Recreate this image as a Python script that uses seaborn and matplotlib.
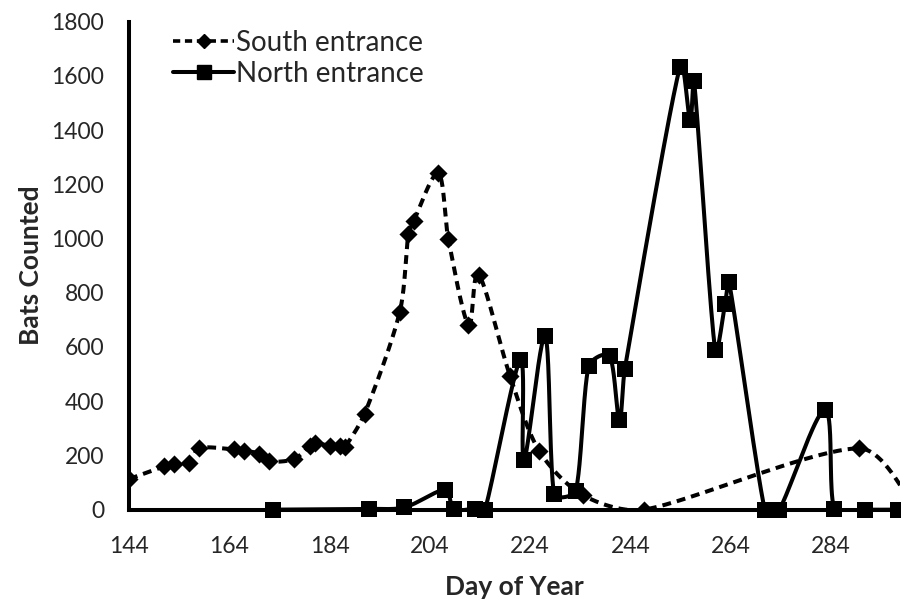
import numpy as np
import pandas as pd
import matplotlib
matplotlib.use("Agg")
import matplotlib.pyplot as plt
from matplotlib.lines import Line2D
import seaborn as sns

# South entrance counts (day of year, bats)
south_day = [144, 151, 153, 156, 158, 165, 167, 170, 172, 177, 180, 181, 184, 186, 187,
             191, 198, 199.7, 200.8, 205.7, 207.7, 211.7, 213.8, 220, 225.8, 234.6,
             246.8, 289.6, 301]
south_count = [113, 160, 169, 172, 227, 222, 218, 206, 178, 187, 236, 246, 236, 234, 230,
               354, 729, 1015, 1065, 1240, 997, 681, 865, 493, 217, 53,
               0, 226, 0]

# North entrance counts
north_day = [172.8, 191.9, 198.9, 207, 208.8, 213, 215, 222, 222.8, 227, 228.8, 233.1,
             235.7, 239.9, 241.8, 242.9, 253.9, 255.9, 256.7, 260.9, 262.9, 263.7,
             270.8, 273.7, 282.8, 284.7, 290.7, 297.4]
north_count = [0, 3, 8, 73, 3, 3, 0, 551, 184, 639, 58, 70,
               530, 565, 329, 520, 1634, 1437, 1582, 590, 760, 838,
               0, 0, 368, 3, 0, 0]

x_ticks = [144, 164, 184, 204, 224, 244, 264, 284]
y_ticks = list(range(0, 1801, 200))

# rough pixel scale of the plot, so the smoothing behaves like on screen
PX_X, PX_Y = 5.014, 0.271


def smooth(xs, ys, n=40, limit=0.3):
    # Excel style smoothed line: bezier through the points, tangents kept short
    p = np.column_stack([np.array(xs) * PX_X, np.array(ys) * PX_Y]).astype(float)
    p = np.vstack([p[0], p, p[-1]])
    out = []
    t = np.linspace(0, 1, n)
    for i in range(1, len(p) - 2):
        p0, p1, p2, p3 = p[i - 1], p[i], p[i + 1], p[i + 2]
        seg_len = np.hypot(*(p2 - p1))
        d1 = (p2 - p0) / 6
        d2 = (p3 - p1) / 6
        for d in (d1, d2):
            ln = np.hypot(*d)
            if ln > limit * seg_len and ln > 0:
                d *= limit * seg_len / ln
        c1 = p1 + d1
        c2 = p2 - d2
        seg = ((1 - t) ** 3)[:, None] * p1 + (3 * (1 - t) ** 2 * t)[:, None] * c1 \
            + (3 * (1 - t) * t ** 2)[:, None] * c2 + (t ** 3)[:, None] * p2
        out.append(seg if i == 1 else seg[1:])
    out = np.vstack(out)
    return pd.DataFrame({"day": out[:, 0] / PX_X, "count": out[:, 1] / PX_Y})


sns.set_style("white")
plt.rcParams["font.family"] = ["Lato", "DejaVu Sans"]

fig = plt.figure(figsize=(9.01, 6.01), dpi=100)
ax = fig.add_axes([0.1432, 0.152, 0.8558, 0.812])

south_curve = smooth(south_day, south_count)
north_curve = smooth(north_day, north_count)

sns.lineplot(data=south_curve, x="day", y="count", sort=False, estimator=None,
             color="black", lw=2.9, ax=ax, linestyle=(0, (2.2, 1.5)))
sns.lineplot(data=north_curve, x="day", y="count", sort=False, estimator=None,
             color="black", lw=2.9, ax=ax)
sns.scatterplot(x=south_day, y=south_count, marker="D", s=85, color="black",
                edgecolor="black", linewidth=0, ax=ax, zorder=5)
sns.scatterplot(x=north_day, y=north_count, marker="s", s=135, color="black",
                edgecolor="black", linewidth=0, ax=ax, zorder=5, clip_on=False)

ax.set_xlim(144, 297.8)
ax.set_ylim(0, 1800)
ax.set_xticks(x_ticks)
ax.set_yticks(y_ticks)
ax.tick_params(axis="both", direction="out", length=7, width=2.6, color="black",
               labelsize=16.5)
ax.tick_params(axis="y", pad=11)
ax.tick_params(axis="x", pad=12)

for side in ["top", "right"]:
    ax.spines[side].set_visible(False)
for side in ["left", "bottom"]:
    ax.spines[side].set_color("black")
    ax.spines[side].set_linewidth(2.9)

ax.set_xlabel("Day of Year", fontsize=19, fontweight="bold", labelpad=13)
ax.set_ylabel("Bats Counted", fontsize=19, fontweight="bold", labelpad=6)

handles = [
    Line2D([], [], color="black", lw=2.6, linestyle=(0, (2.0, 1.3)), marker="D",
           markersize=7),
    Line2D([], [], color="black", lw=2.9, marker="s", markersize=10),
]
ax.legend(handles, ["South entrance", "North entrance"], loc="upper left",
          bbox_to_anchor=(0.025, 1.035), frameon=False, fontsize=20,
          handlelength=2.2, handletextpad=0.05, labelspacing=0.2)

fig.savefig("out.png", dpi=100)
